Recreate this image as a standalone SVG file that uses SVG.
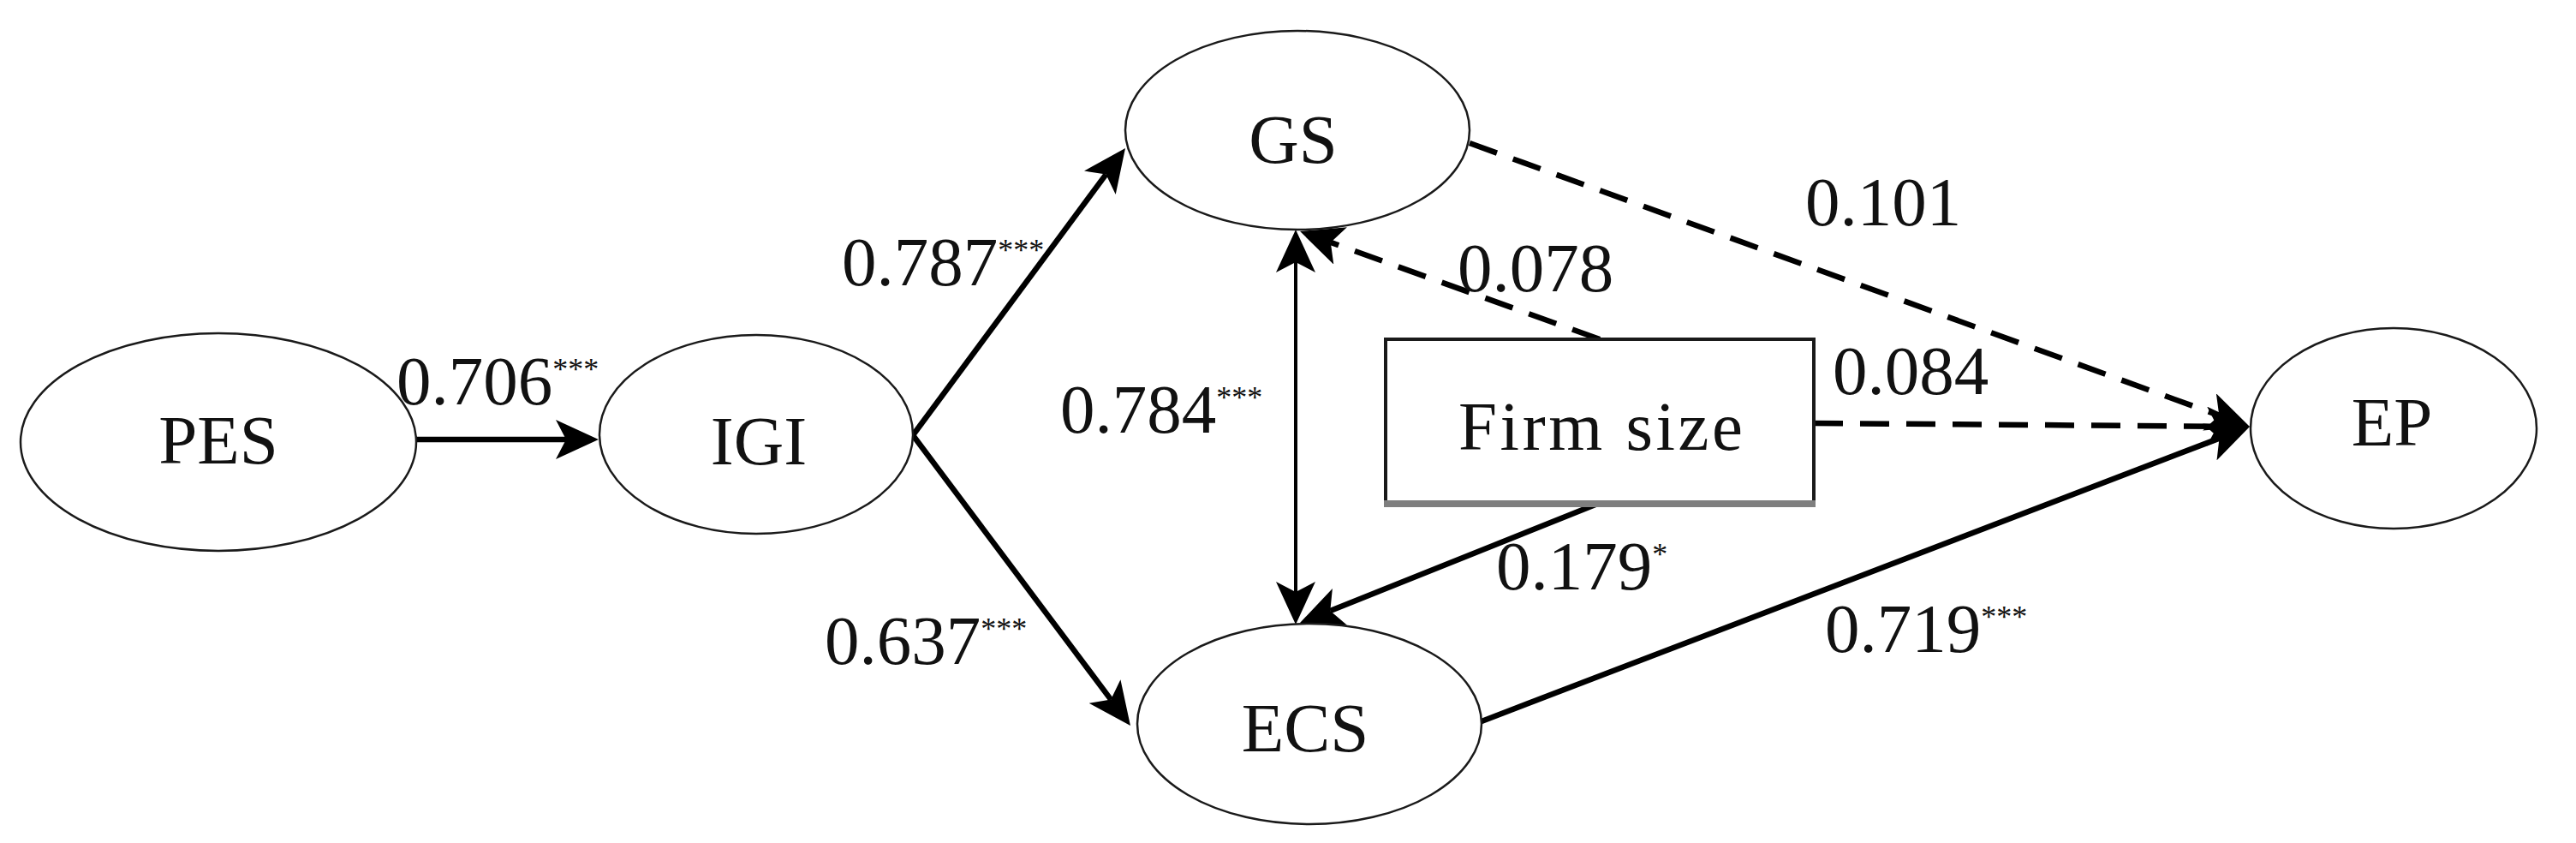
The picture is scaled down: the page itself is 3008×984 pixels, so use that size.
<svg xmlns="http://www.w3.org/2000/svg" width="3008" height="984" viewBox="0 0 3008 984">
<style>
.node ellipse{fill:#fff;stroke:#1a1a1a;stroke-width:2.5}
.lbl{font-family:"Liberation Serif","Times New Roman",serif;font-size:81px;fill:#111}
.nl{text-anchor:middle}
.sup{font-size:36px}
.conn{fill:none;stroke:#000;stroke-width:6.5}
.dash{stroke-dasharray:34 20}
.thin{stroke-width:4}
</style>
<defs>
<marker id="ah" viewBox="0 0 50 46" refX="12" refY="23" markerWidth="50" markerHeight="46" markerUnits="userSpaceOnUse" orient="auto-start-reverse">
<path d="M0,0 L50,23 L0,46 L12,23 Z" fill="#000"/>
</marker>
</defs>
<rect width="3008" height="984" fill="#fff"/>
<g id="connectors">
<line class="conn" x1="486" y1="513" x2="661" y2="513" marker-end="url(#ah)"/>
<line class="conn" x1="1066" y1="508" x2="1291.4" y2="203.6" marker-end="url(#ah)"/>
<line class="conn" x1="1066" y1="508" x2="1297.2" y2="816.6" marker-end="url(#ah)"/>
<line class="conn thin" x1="1513" y1="306" x2="1513" y2="691" marker-start="url(#ah)" marker-end="url(#ah)"/>
<line class="conn dash" x1="1868" y1="396" x2="1553.8" y2="282.9" marker-end="url(#ah)"/>
<line class="conn" x1="1868" y1="587" x2="1553.3" y2="712.9" marker-end="url(#ah)"/>
<line class="conn dash" x1="1716" y1="167" x2="2591.3" y2="485" marker-end="url(#ah)"/>
<line class="conn dash" x1="2118" y1="494" x2="2589" y2="497.7" marker-end="url(#ah)"/>
<line class="conn" x1="1730" y1="842" x2="2591.5" y2="511.6" marker-end="url(#ah)"/>
</g>
<g id="node-PES" class="node"><ellipse cx="255" cy="516" rx="231" ry="127"/><text class="lbl nl" x="255" y="541">PES</text></g>
<g id="node-IGI" class="node"><ellipse cx="883" cy="507" rx="183" ry="116"/><text class="lbl nl" x="886" y="542">IGI</text></g>
<g id="node-GS" class="node"><ellipse cx="1515" cy="152" rx="201" ry="116"/><text class="lbl nl" x="1510" y="190">GS</text></g>
<g id="node-ECS" class="node"><ellipse cx="1529" cy="845" rx="201" ry="117"/><text class="lbl nl" x="1524" y="877">ECS</text></g>
<g id="node-EP" class="node"><ellipse cx="2795" cy="500" rx="167" ry="117"/><text class="lbl nl" x="2793" y="520">EP</text></g>
<g id="node-FirmSize">
<rect x="1618" y="396" width="500" height="191" fill="#fff" stroke="#1a1a1a" stroke-width="4"/>
<line x1="1616" y1="588" x2="2120" y2="588" stroke="#7f7f7f" stroke-width="8"/>
<text class="lbl nl" x="1869" y="525" textLength="332" lengthAdjust="spacing">Firm size</text>
</g>
<g id="edge-labels">
<text class="lbl" x="463" y="472">0.706<tspan class="sup" dy="-29">***</tspan></text>
<text class="lbl" x="983" y="333">0.787<tspan class="sup" dy="-29">***</tspan></text>
<text class="lbl" x="963" y="775">0.637<tspan class="sup" dy="-29">***</tspan></text>
<text class="lbl" x="1238" y="505">0.784<tspan class="sup" dy="-29">***</tspan></text>
<text class="lbl" x="1702" y="340">0.078</text>
<text class="lbl" x="2108" y="263">0.101</text>
<text class="lbl" x="2140" y="460">0.084</text>
<text class="lbl" x="1747" y="688">0.179<tspan class="sup" dy="-29">*</tspan></text>
<text class="lbl" x="2131" y="761">0.719<tspan class="sup" dy="-29">***</tspan></text>
</g>
</svg>
